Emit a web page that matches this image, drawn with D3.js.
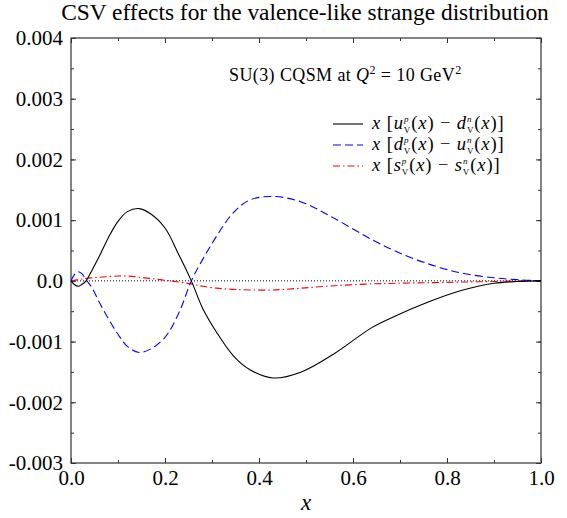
<!DOCTYPE html>
<html><head><meta charset="utf-8">
<script src="https://cdn.jsdelivr.net/npm/d3@7"></script>
<style>body{margin:0;background:#fff}svg{display:block}text{font-family:"Liberation Serif","Times New Roman","DejaVu Serif",serif}</style>
</head><body><svg id="c" width="567" height="518"></svg>
<script>
const xs = [0,0.007,0.015,0.023,0.032,0.045,0.06,0.08,0.1,0.12,0.145,0.17,0.2,0.23,0.256,0.28,0.31,0.345,0.38,0.43,0.49,0.56,0.64,0.69,0.76,0.83,0.9,0.95,1.0];
const uvMinusDn = [0,-0.00006,-0.00009,-0.00006,0,0.00018,0.0004,0.00072,0.00098,0.00114,0.00119,0.0011,0.00087,0.00042,0,-0.00045,-0.00085,-0.00123,-0.00146,-0.0016,-0.0015,-0.0012,-0.00077,-0.00058,-0.00035,-0.00016,-0.00004,-0.00001,0];
const dvMinusUn = [0,0.0001,0.00015,0.00012,0.00002,-0.00012,-0.00035,-0.00063,-0.00088,-0.00108,-0.00118,-0.00112,-0.00093,-0.00052,0,0.00035,0.00074,0.00112,0.00133,0.00139,0.0013,0.00103,0.00068,0.00049,0.00028,0.00013,0.00005,0.00002,0];
const svMinusSn = [0,0.00001,0.00002,0.00003,0.00004,0.00005,0.00006,0.00007,0.00008,0.00008,0.00006,0.00004,0.00001,-0.00002,-0.00005,-0.00009,-0.00012,-0.00014,-0.00015,-0.00015,-0.00012,-0.00008,-0.00005,-0.00004,-0.00003,-0.00002,-0.00001,0,0];
const xTicks = [0,0.2,0.4,0.6,0.8,1.0];
const xTickLabels = ["0.0","0.2","0.4","0.6","0.8","1.0"];
const yTicks = [-0.003,-0.002,-0.001,0,0.001,0.002,0.003,0.004];
const yTickLabels = ["-0.003","-0.002","-0.001","0.0","0.001","0.002","0.003","0.004"];
const title = "CSV effects for the valence-like strange distribution";

const svg = d3.select("#c");
const L=71,R=541,T=38,B=463;
const x = d3.scaleLinear().domain([0,1]).range([L,R]);
const y = d3.scaleLinear().domain([-0.003,0.004]).range([B,T]);

const xMinor = d3.range(0,1.0001,0.1);
const yMinor = d3.range(-0.003,0.00401,0.0005);
const frame="#333";

function styleAxis(g){g.select(".domain").remove();g.selectAll("line").attr("stroke",frame).attr("stroke-width",1);}
svg.append("g").attr("transform",`translate(0,${B})`).call(d3.axisBottom(x).tickValues(xMinor).tickSize(-3).tickFormat("")).call(styleAxis);
svg.append("g").attr("transform",`translate(0,${B})`).call(d3.axisBottom(x).tickValues(xTicks).tickSize(-5).tickPadding(7).tickFormat((d,i)=>xTickLabels[i])).call(styleAxis)
  .selectAll("text").attr("font-size",21).attr("fill","#000");
svg.append("g").attr("transform",`translate(0,${T})`).call(d3.axisTop(x).tickValues(xMinor).tickSize(-3).tickFormat("")).call(styleAxis);
svg.append("g").attr("transform",`translate(0,${T})`).call(d3.axisTop(x).tickValues(xTicks).tickSize(-5).tickFormat("")).call(styleAxis);
svg.append("g").attr("transform",`translate(${L},0)`).call(d3.axisLeft(y).tickValues(yMinor).tickSize(-3).tickFormat("")).call(styleAxis);
svg.append("g").attr("transform",`translate(${L},0)`).call(d3.axisLeft(y).tickValues(yTicks).tickSize(-5).tickPadding(8).tickFormat((d,i)=>yTickLabels[i])).call(styleAxis)
  .selectAll("text").attr("font-size",21).attr("fill","#000");
svg.append("g").attr("transform",`translate(${R},0)`).call(d3.axisRight(y).tickValues(yMinor).tickSize(-3).tickFormat("")).call(styleAxis);
svg.append("g").attr("transform",`translate(${R},0)`).call(d3.axisRight(y).tickValues(yTicks).tickSize(-5).tickFormat("")).call(styleAxis);

svg.append("rect").attr("x",L).attr("y",T).attr("width",R-L).attr("height",B-T).attr("fill","none").attr("stroke",frame).attr("stroke-width",1.2);

svg.append("line").attr("x1",x(0)).attr("x2",x(1)).attr("y1",y(0)).attr("y2",y(0)).attr("stroke","#000").attr("stroke-width",1).attr("stroke-dasharray","1,2");

const line = d3.line().x(d=>x(d[0])).y(d=>y(d[1])).curve(d3.curveCatmullRom.alpha(0.5));
const series = [
  {v:svMinusSn,c:"#f00",dash:"7,3,1.5,3",w:1.1},
  {v:dvMinusUn,c:"#00f",dash:"8,4",w:1.1},
  {v:uvMinusDn,c:"#000",dash:null,w:1.1}
];
series.forEach(s=>{
  svg.append("path").datum(xs.map((d,i)=>[d,s.v[i]])).attr("d",line).attr("fill","none")
   .attr("stroke",s.c).attr("stroke-width",s.w).attr("stroke-dasharray",s.dash);
});

svg.append("text").attr("x",305).attr("y",20).attr("text-anchor","middle").attr("font-size",23.4).text(title);
svg.append("text").attr("x",306).attr("y",510).attr("text-anchor","middle").attr("font-size",23).attr("font-style","italic").text("x");

const ann = svg.append("text").attr("x",229).attr("y",81).attr("font-size",18).attr("letter-spacing",0.4);
ann.append("tspan").text("SU(3) CQSM at  ");
ann.append("tspan").attr("font-style","italic").text("Q");
ann.append("tspan").attr("font-size",12).attr("dy",-7).text("2");
ann.append("tspan").attr("dy",7).text(" = 10 GeV");
ann.append("tspan").attr("font-size",12).attr("dy",-7).text("2");

const leg = [
  {c:"#000",dash:null,a:"u",b:"d"},
  {c:"#00f",dash:"8,4",a:"d",b:"u"},
  {c:"#f00",dash:"7,3,1.5,3",a:"s",b:"s"}
];
leg.forEach((l,i)=>{
  const yy=124+i*21;
  svg.append("line").attr("x1",333).attr("x2",363).attr("y1",yy).attr("y2",yy).attr("stroke",l.c).attr("stroke-width",1.1).attr("stroke-dasharray",l.dash);
  const t=svg.append("text").attr("x",372).attr("y",yy+5).attr("font-size",18.5).attr("letter-spacing",0.9);
  t.append("tspan").attr("font-style","italic").text("x");
  t.append("tspan").text(" [");
  t.append("tspan").attr("font-style","italic").text(l.a);
  t.append("tspan").attr("font-size",9).attr("font-style","italic").attr("dy",-7).text("p");
  t.append("tspan").attr("font-size",9).attr("dx",-5.5).attr("dy",10.5).text("V");
  t.append("tspan").attr("dy",-3.5).text("(");
  t.append("tspan").attr("font-style","italic").text("x");
  t.append("tspan").text(") − ");
  t.append("tspan").attr("font-style","italic").text(l.b);
  t.append("tspan").attr("font-size",9).attr("font-style","italic").attr("dy",-7).text("n");
  t.append("tspan").attr("font-size",9).attr("dx",-5.5).attr("dy",10.5).text("V");
  t.append("tspan").attr("dy",-3.5).text("(");
  t.append("tspan").attr("font-style","italic").text("x");
  t.append("tspan").text(")]");
});
</script></body></html>
